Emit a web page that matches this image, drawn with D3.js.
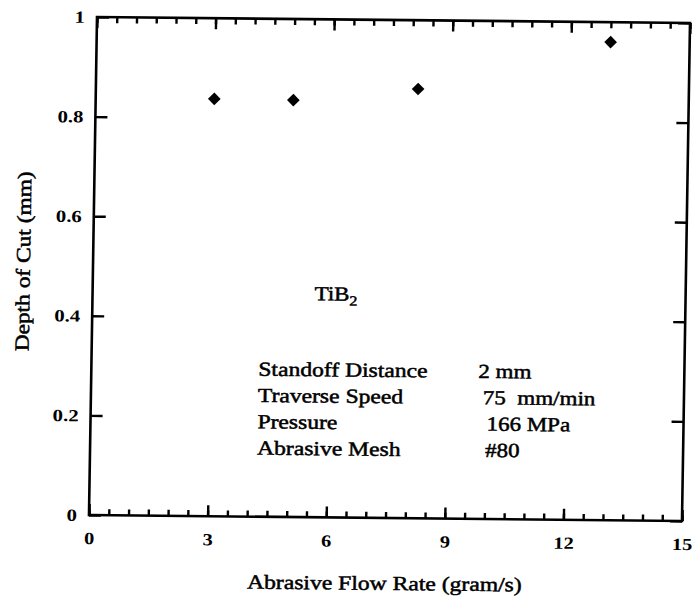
<!DOCTYPE html>
<html>
<head>
<meta charset="utf-8">
<script src="https://cdn.jsdelivr.net/npm/d3@7"></script>
<style>
  html, body { margin: 0; padding: 0; background: #fff; }
  svg { display: block; }
  text { font-family: "Liberation Serif", "Times New Roman", serif; fill: #000; white-space: pre; }
</style>
</head>
<body>
<svg id="chart" width="694" height="598"></svg>
<script>
// Abrasive flow rate (gram/s) and measured depth of cut (mm)
const flowRate   = [3.0, 5.0, 8.15, 13.0];
const depthOfCut = [0.838, 0.837, 0.862, 0.960];

// Axis ticks
const xTicks      = [0, 3, 6, 9, 12, 15];
const xMinorTicks = d3.range(0, 15.01, 0.5);
const yTicks      = [0, 0.2, 0.4, 0.6, 0.8, 1];
const yTickLabels = ["0", "0.2", "0.4", "0.6", "0.8", "1"];

// Annotation text
const material        = ["TiB", "2"];
const conditionLabels = ["Standoff Distance", "Traverse Speed", "Pressure", "Abrasive Mesh"];
const conditionValues = ["2 mm", "75  mm/min", "166 MPa", "#80"];

const xTitle = "Abrasive Flow Rate (gram/s)";
const yTitle = "Depth of Cut (mm)";

// ---- layout ----
const W = 593, H = 498;
const svg = d3.select("#chart");
svg.append("rect").attr("width", 694).attr("height", 598).attr("fill", "#fff");

// the printed page sits slightly tilted, so the whole frame is drawn in a skewed system
const g = svg.append("g")
  .attr("transform", "matrix(1,0.0101,-0.0161,1,97,17)");

const x = d3.scaleLinear().domain([0, 15]).range([0, W]);
const y = d3.scaleLinear().domain([0, 1]).range([H, 0]);

// widen glyphs a little: the typeface on the page is broader than Times
function widen(sel, k) {
  sel.each(function () {
    const L = this.getComputedTextLength();
    if (L > 0) {
      this.setAttribute("textLength", L * k);
      this.setAttribute("lengthAdjust", "spacingAndGlyphs");
    }
  });
}

function styleAxis(a) {
  a.select(".domain").remove();
  a.selectAll(".tick line")
    .attr("stroke", "#000")
    .attr("stroke-width", 2.4)
    .attr("stroke-linecap", "butt");
  a.selectAll("text")
    .attr("font-family", "'Liberation Serif', serif")
    .attr("font-weight", "bold")
    .attr("font-size", 17)
    .attr("fill", "#000");
}

// bottom axis: major and minor ticks pointing inward
const bottomMinor = g.append("g").attr("transform", `translate(0,${H})`)
  .call(d3.axisBottom(x).tickValues(xMinorTicks).tickSize(-6).tickSizeOuter(0).tickFormat(""));
styleAxis(bottomMinor);
const bottom = g.append("g").attr("transform", `translate(0,${H})`)
  .call(d3.axisBottom(x).tickValues(xTicks).tickSize(-11).tickSizeOuter(0).tickPadding(17).tickFormat(d3.format("d")));
styleAxis(bottom);
widen(bottom.selectAll("text"), 1.2);

// top axis: ticks only
const topMinor = g.append("g")
  .call(d3.axisTop(x).tickValues(xMinorTicks).tickSize(-6).tickSizeOuter(0).tickFormat(""));
styleAxis(topMinor);
const topMajor = g.append("g")
  .call(d3.axisTop(x).tickValues(xTicks).tickSize(-11).tickSizeOuter(0).tickFormat(""));
styleAxis(topMajor);

// left axis with labels
const left = g.append("g")
  .call(d3.axisLeft(y).tickValues(yTicks).tickSize(-12).tickSizeOuter(0).tickPadding(12)
    .tickFormat((d, i) => yTickLabels[i]));
styleAxis(left);
widen(left.selectAll("text"), 1.22);

// right axis: ticks only
const right = g.append("g").attr("transform", `translate(${W},0)`)
  .call(d3.axisRight(y).tickValues(yTicks).tickSize(-12).tickSizeOuter(0).tickFormat(""));
styleAxis(right);

// frame
g.append("rect")
  .attr("x", 0).attr("y", 0).attr("width", W).attr("height", H)
  .attr("fill", "none").attr("stroke", "#000").attr("stroke-width", 2.6);

// data markers: filled diamonds
const diamond = d3.symbol().type(d3.symbolSquare).size(80);
g.append("g").selectAll("path")
  .data(flowRate.map((v, i) => [v, depthOfCut[i]]))
  .join("path")
  .attr("d", diamond)
  .attr("transform", d => `translate(${x(d[0])},${y(d[1])}) rotate(45)`)
  .attr("fill", "#000");

const textStroke = 0.5;

// material label with subscript
const mat = g.append("text")
  .attr("x", 222).attr("y", 281)
  .attr("font-size", 20)
  .attr("stroke", "#000").attr("stroke-width", textStroke);
mat.append("tspan").text(material[0]);
mat.append("tspan").attr("font-size", 14).attr("dy", 5).text(material[1]);
widen(mat, 1.15);

// process conditions
const noteX = 167, noteTop = 357, lineGap = 26.3;
const valueX = [387, 392, 396, 395];
const labels = g.append("g").selectAll("text")
  .data(conditionLabels).join("text")
  .attr("x", noteX)
  .attr("y", (d, i) => noteTop + i * lineGap)
  .attr("font-size", 20)
  .attr("stroke", "#000").attr("stroke-width", textStroke)
  .text(d => d);
widen(labels, 1.18);

const values = g.append("g").selectAll("text")
  .data(conditionValues).join("text")
  .attr("x", (d, i) => valueX[i])
  .attr("y", (d, i) => noteTop + i * lineGap)
  .attr("font-size", 20)
  .attr("stroke", "#000").attr("stroke-width", textStroke)
  .text(d => d);
widen(values, 1.15);

// axis titles
const xt = g.append("text")
  .attr("x", W / 2).attr("y", H + 72)
  .attr("text-anchor", "middle")
  .attr("font-size", 20)
  .attr("stroke", "#000").attr("stroke-width", textStroke)
  .text(xTitle);
widen(xt, 1.18);

const yt = g.append("text")
  .attr("transform", `translate(-63,${H / 2 - 4}) rotate(-90)`)
  .attr("text-anchor", "middle")
  .attr("font-size", 20)
  .attr("stroke", "#000").attr("stroke-width", textStroke)
  .text(yTitle);
widen(yt, 1.17);
</script>
</body>
</html>
